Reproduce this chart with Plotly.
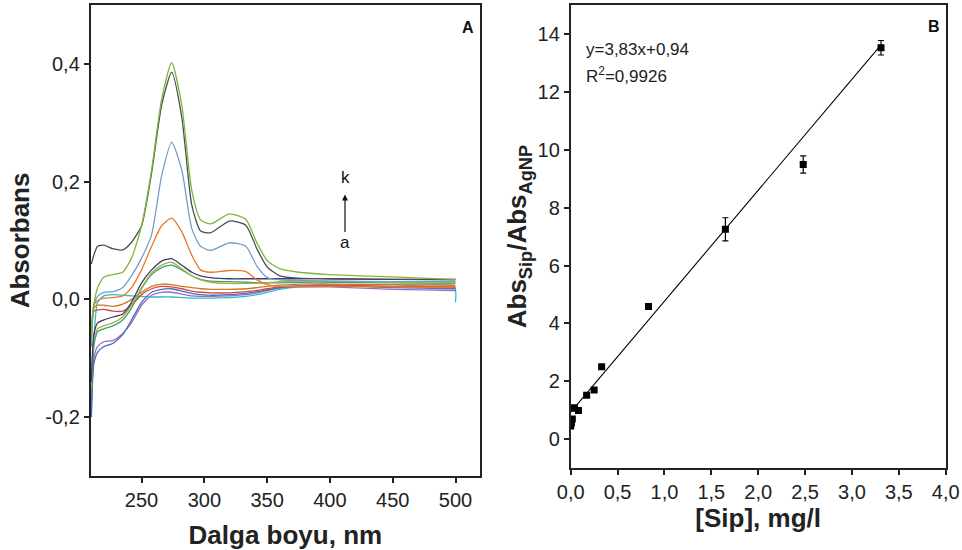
import plotly.graph_objects as go
import numpy as np

# panel A: spectra, absorbance at these wavelengths (nm)
wl = [210, 212, 215, 220, 227, 235, 242, 250, 258, 266, 274, 282, 290, 297,
      305, 320, 333, 342, 350, 360, 375, 400, 450, 499, 500]

spec_green = [-0.06, -0.01, 0.02, 0.038, 0.042, 0.046, 0.07, 0.125, 0.22, 0.34, 0.402, 0.33, 0.185, 0.135,
              0.128, 0.145, 0.136, 0.095, 0.066, 0.052, 0.046, 0.042, 0.038, 0.034, 0.034]
spec_gray = [0.06, 0.075, 0.09, 0.092, 0.086, 0.084, 0.097, 0.125, 0.215, 0.33, 0.386, 0.31, 0.16, 0.116,
             0.113, 0.133, 0.126, 0.085, 0.055, 0.04, 0.036, 0.035, 0.034, 0.033, 0.033]
spec_steel = [-0.08, -0.01, 0.005, 0.012, 0.013, 0.02, 0.04, 0.07, 0.11, 0.21, 0.267, 0.22, 0.12, 0.09,
              0.083, 0.096, 0.09, 0.056, 0.037, 0.033, 0.032, 0.031, 0.03, 0.03, 0.03]
spec_orange = [-0.06, -0.01, -0.002, 0.002, 0.003, 0.006, 0.02, 0.05, 0.09, 0.125, 0.138, 0.115, 0.075, 0.05,
               0.046, 0.049, 0.047, 0.033, 0.025, 0.022, 0.022, 0.022, 0.021, 0.02, 0.02]
spec_navy = [-0.14, -0.06, -0.04, -0.035, -0.03, -0.025, -0.005, 0.028, 0.05, 0.065, 0.069, 0.058, 0.046, 0.04,
             0.037, 0.035, 0.035, 0.035, 0.035, 0.035, 0.035, 0.035, 0.034, 0.034, 0.034]
spec_olive = [-0.15, -0.07, -0.05, -0.045, -0.04, -0.03, -0.01, 0.02, 0.045, 0.058, 0.063, 0.052, 0.04, 0.033,
              0.029, 0.027, 0.027, 0.027, 0.028, 0.03, 0.031, 0.031, 0.029, 0.028, 0.028]
spec_teal = [-0.16, -0.08, -0.055, -0.05, -0.045, -0.035, -0.015, 0.018, 0.042, 0.054, 0.058, 0.05, 0.04, 0.034,
             0.031, 0.03, 0.029, 0.028, 0.028, 0.028, 0.029, 0.029, 0.028, 0.027, 0.027]
spec_brown = [-0.05, -0.015, -0.01, -0.01, -0.012, -0.008, 0.0, 0.012, 0.022, 0.026, 0.025, 0.022, 0.02, 0.018,
              0.017, 0.017, 0.018, 0.02, 0.022, 0.024, 0.026, 0.026, 0.025, 0.024, 0.024]
spec_red = [-0.08, -0.02, -0.018, -0.017, -0.02, -0.02, -0.01, 0.008, 0.018, 0.022, 0.021, 0.018, 0.014, 0.012,
            0.011, 0.011, 0.013, 0.015, 0.018, 0.021, 0.023, 0.024, 0.022, 0.021, 0.021]
spec_blue = [-0.2, -0.11, -0.09, -0.08, -0.075, -0.06, -0.035, -0.005, 0.012, 0.017, 0.018, 0.014, 0.01, 0.008,
             0.007, 0.008, 0.01, 0.013, 0.016, 0.02, 0.023, 0.024, 0.02, 0.018, 0.018]
spec_purple = [-0.18, -0.1, -0.08, -0.072, -0.07, -0.058, -0.04, -0.01, 0.007, 0.012, 0.012, 0.009, 0.006, 0.005,
               0.005, 0.006, 0.008, 0.011, 0.015, 0.019, 0.021, 0.021, 0.017, 0.015, 0.015]
spec_cyan = [-0.2, -0.07, -0.005, 0.006, 0.008, 0.007, 0.006, 0.005, 0.004, 0.004, 0.004, 0.003, 0.002, 0.002,
             0.002, 0.003, 0.005, 0.008, 0.012, 0.017, 0.021, 0.022, 0.022, 0.022, -0.005]

spectra = [
    (spec_cyan, "#27bfcb"), (spec_purple, "#9b6cc2"), (spec_blue, "#4d6bbd"),
    (spec_red, "#d9453b"), (spec_brown, "#c97b22"), (spec_teal, "#38a383"),
    (spec_olive, "#a9b233"), (spec_navy, "#3c3c6e"), (spec_orange, "#e8782f"),
    (spec_steel, "#6f9fca"), (spec_gray, "#4b4b59"), (spec_green, "#80b53b"),
]

a_yticks = [-0.2, 0.0, 0.2, 0.4]
a_yticktext = ["-0,2", "0,0", "0,2", "0,4"]
a_xticks = [250, 300, 350, 400, 450, 500]

# panel B: calibration points
sip = [0.0, 0.008, 0.017, 0.033, 0.041, 0.083, 0.17, 0.25, 0.33, 0.83, 1.65, 2.48, 3.31]
ratio = [0.46, 0.56, 0.70, 1.08, 1.08, 1.0, 1.52, 1.70, 2.51, 4.59, 7.25, 9.49, 13.52]
ratio_err = [0, 0, 0, 0, 0, 0, 0, 0, 0, 0, 0.40, 0.30, 0.25]
slope, intercept = 3.83, 0.94

b_xticks = [0, 0.5, 1.0, 1.5, 2.0, 2.5, 3.0, 3.5, 4.0]
b_xticktext = ["0,0", "0,5", "1,0", "1,5", "2,0", "2,5", "3,0", "3,5", "4,0"]
b_yticks = [0, 2, 4, 6, 8, 10, 12, 14]

FONT = "Arial, Liberation Sans, sans-serif"
W, H = 962, 550

fig = go.Figure()

for vals, col in spectra:
    fig.add_trace(go.Scatter(x=wl, y=vals, mode="lines", line=dict(color=col, width=1.3, shape="spline", smoothing=0.6),
                             xaxis="x", yaxis="y", showlegend=False, hoverinfo="skip"))

fit_x = np.array([0.0, sip[-1]])
fig.add_trace(go.Scatter(x=fit_x, y=slope * fit_x + intercept, mode="lines", line=dict(color="black", width=1.1),
                         xaxis="x2", yaxis="y2", showlegend=False))
fig.add_trace(go.Scatter(x=sip, y=ratio, mode="markers",
                         marker=dict(symbol="square", size=7, color="black"),
                         error_y=dict(type="data", array=ratio_err, visible=True, color="black", thickness=1.2, width=3),
                         xaxis="x2", yaxis="y2", showlegend=False))

axis_common = dict(showline=True, linecolor="#222", linewidth=1.8, mirror=True, ticks="outside", ticklen=5,
                   tickwidth=1.5, tickcolor="#222", showgrid=False, zeroline=False, automargin=False,
                   tickfont=dict(family=FONT, size=20, color="#222"))
title_font = dict(family=FONT, size=26, color="#222")

fig.update_layout(
    width=W, height=H,
    margin=dict(l=0, r=0, t=0, b=0),
    paper_bgcolor="white", plot_bgcolor="white",
    xaxis=dict(domain=[90.7 / W, 480 / W], range=[209.5, 519.5], tickvals=a_xticks,
               title=dict(text="<b>Dalga boyu, nm</b>", font=title_font, standoff=18), anchor="y", **axis_common),
    yaxis=dict(domain=[1 - 476 / H, 1 - 4.9 / H], range=[-0.3, 0.5], tickvals=a_yticks, ticktext=a_yticktext,
               title=dict(text="<b>Absorbans</b>", font=title_font, standoff=8), anchor="x", **axis_common),
    xaxis2=dict(domain=[570.7 / W, 945.7 / W], range=[0, 4], tickvals=b_xticks, ticktext=b_xticktext,
                title=dict(text="<b>[Sip], mg/l</b>", font=title_font, standoff=1), anchor="y2", **axis_common),
    yaxis2=dict(domain=[1 - 468.3 / H, 1 - 4.9 / H], range=[-1, 15], tickvals=b_yticks,
                title=dict(text="<b>Abs<sub>Sip</sub>/Abs<sub>AgNP</sub></b>", font=title_font, standoff=3),
                anchor="x2", **axis_common),
)

# labels
fig.add_annotation(x=476 / W, y=1 - 17 / H, xref="paper", yref="paper", text="<b>A</b>", showarrow=False,
                   xanchor="right", font=dict(family=FONT, size=16, color="#111"))
fig.add_annotation(x=942 / W, y=1 - 16 / H, xref="paper", yref="paper", text="<b>B</b>", showarrow=False,
                   xanchor="right", font=dict(family=FONT, size=16, color="#111"))
fig.add_annotation(x=412, y=0.207, xref="x", yref="y", text="k", showarrow=False,
                   font=dict(family=FONT, size=17, color="#111"))
fig.add_annotation(x=412, y=0.097, xref="x", yref="y", text="a", showarrow=False,
                   font=dict(family=FONT, size=17, color="#111"))
fig.add_annotation(x=412, y=0.178, ax=412, ay=0.112, xref="x", yref="y", axref="x", ayref="y", text="",
                   showarrow=True, arrowhead=2, arrowsize=1, arrowwidth=1.2, arrowcolor="#111")
fig.add_annotation(x=584 / W, y=1 - 38 / H, xref="paper", yref="paper", text="y=3,83x+0,94", showarrow=False,
                   xanchor="left", font=dict(family=FONT, size=17, color="#222"))
fig.add_annotation(x=584 / W, y=1 - 62 / H, xref="paper", yref="paper", text="R<sup>2</sup>=0,9926", showarrow=False,
                   xanchor="left", font=dict(family=FONT, size=17, color="#222"))

# page body has an 8px default margin; drop it so the figure sits at the window corner
fig.write_html("out.html", config={"displayModeBar": False},
               post_script="document.body.style.margin='0';")
